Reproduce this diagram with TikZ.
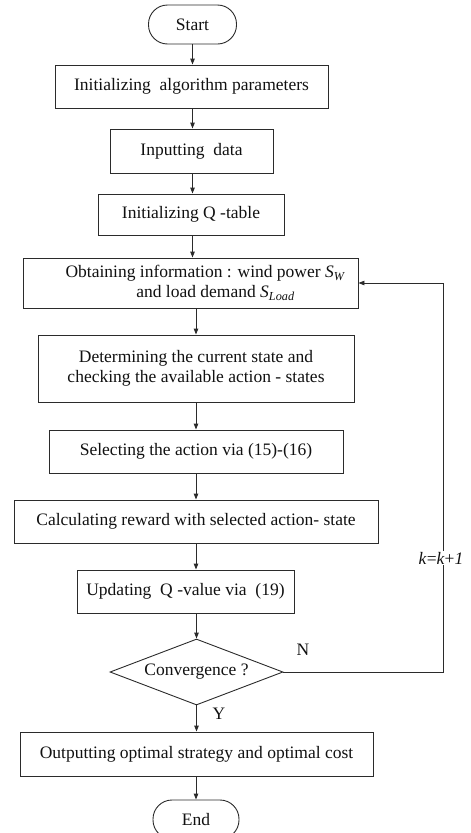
\documentclass[tikz,border=0pt]{standalone}
\usepackage{fontspec}
\setmainfont{Liberation Serif}
\usepackage{xcolor}
\usepackage{tikz}
\definecolor{flowLine}{HTML}{2B2B2B}
\definecolor{flowText}{HTML}{111111}
\usetikzlibrary{arrows.meta,positioning,shapes.geometric,calc}

\begin{document}
\begin{tikzpicture}[
  x=1pt, y=-1pt,
  font=\fontsize{17.5}{20}\selectfont,
  process/.style={draw=flowLine, line width=0.9pt, inner sep=2pt, align=center, text=flowText},
  terminal/.style={process, rounded corners=19pt, minimum width=88pt, minimum height=39pt},
  decision/.style={diamond, draw=flowLine, line width=0.9pt, aspect=2.62, inner sep=1pt, minimum width=173pt, minimum height=66pt, text=flowText},
  flow/.style={line width=0.9pt, flowLine, -{Triangle[length=6pt,width=4.5pt]}},
  tag/.style={text=flowText, inner sep=1pt}
]
\useasboundingbox (0,0) rectangle (471,833);

% Terminals
\node[terminal] (start) at (192.5,24.5) {Start};
\node[terminal, minimum width=86pt] (finish) at (196,819.5) {End};

% Process steps
\node[process, minimum width=273pt, minimum height=43pt] (initPar) at (191.5,86.5) {Initializing~ algorithm parameters};
\node[process, minimum width=163pt, minimum height=44pt] (input) at (191.5,151) {Inputting~ data};
\node[process, minimum width=186pt, minimum height=41pt] (initQ) at (191,214.5) {Initializing Q -table};
\node[process, minimum width=335pt, minimum height=50pt] (obtain) at (190.5,283) {\hspace*{30pt}Obtaining information : wind power \textit{S}\textsubscript{\textit{W}}\\\hspace*{50pt}and load demand \textit{S}\textsubscript{\textit{Load}}};
\node[process, minimum width=316pt, minimum height=67pt] (determ) at (196,368.5) {Determining the current state and\\checking the available action - states};
\node[process, minimum width=294pt, minimum height=43pt] (select) at (196,451.5) {Selecting the action via (15)-(16)};
\node[process, minimum width=364pt, minimum height=43pt] (reward) at (196,521.5) {Calculating reward with selected action- state};
\node[process, minimum width=217pt, minimum height=43pt] (update) at (185.5,591.5) {Updating~ Q -value via~ (19)};
\node[decision] (conv) at (196.5,672) {Convergence ?};
\node[process, minimum width=353pt, minimum height=44pt] (output) at (196.5,754) {Outputting optimal strategy and optimal cost};

% Main flow
\draw[flow] (start.south) -- (start.south |- initPar.north);
\draw[flow] (initPar.south -| start.south) -- (start.south |- input.north);
\draw[flow] (input.south -| start.south) -- (start.south |- initQ.north);
\draw[flow] (initQ.south -| start.south) -- (start.south |- obtain.north);
\draw[flow] (obtain.south -| determ.north) -- (determ.north);
\draw[flow] (determ.south) -- (select.north);
\draw[flow] (select.south) -- (reward.north);
\draw[flow] (reward.south) -- (reward.south |- update.north);
\draw[flow] (update.south -| conv.north) -- (conv.north);
\draw[flow] (conv.south) -- (conv.south |- output.north);
\draw[flow] (output.south -| finish.north) -- (finish.north);

% Loop back
\coordinate (back) at (443,283);
\draw[flow] (conv.east) -| (back) -- (obtain.east);
\node[tag, fill=white] (kinc) at (441,558) {\textit{k}=\textit{k}+\textit{1}};
\node[tag] (no) at (303,650) {N};
\node[tag] (yes) at (219,714) {Y};

\end{tikzpicture}
\end{document}
